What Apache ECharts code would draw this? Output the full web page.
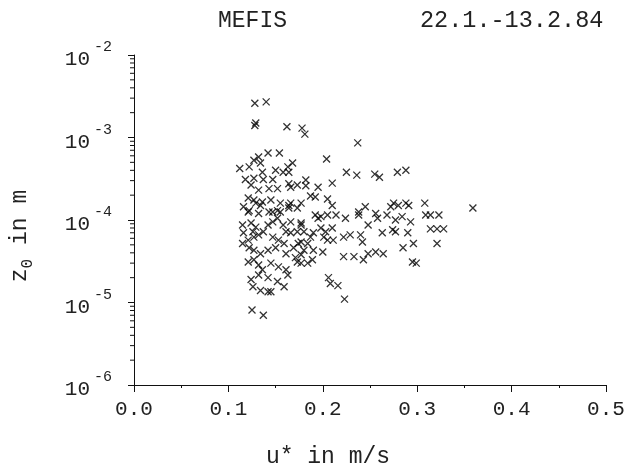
<!DOCTYPE html>
<html><head><meta charset="utf-8">
<script src="https://cdn.jsdelivr.net/npm/echarts@6/dist/echarts.min.js"></script>
<style>html,body{margin:0;padding:0;background:#fff}#c{width:632px;height:471px}</style>
</head><body><div id="c"></div>
<script>
const titleLeft = 'MEFIS';
const titleRight = '22.1.-13.2.84';
const xName = 'u* in m/s';
const xTicks = [0.0, 0.1, 0.2, 0.3, 0.4, 0.5];
const yDecades = [1e-6, 1e-5, 1e-4, 1e-3, 1e-2];
const yMinorTicks = [2e-6,3e-6,4e-6,5e-6,6e-6,7e-6,8e-6,9e-6,
  2e-5,3e-5,4e-5,5e-5,6e-5,7e-5,8e-5,9e-5,
  2e-4,3e-4,4e-4,5e-4,6e-4,7e-4,8e-4,9e-4,
  2e-3,3e-3,4e-3,5e-3,6e-3,7e-3,8e-3,9e-3];

const uStar = [0.128,0.140,0.129,0.128,0.162,0.178,0.181,0.237,0.142,0.154,
0.204,0.127,0.132,0.134,0.112,0.122,0.136,0.150,0.158,0.163,
0.168,0.164,0.225,0.236,0.255,0.260,0.279,0.288,0.118,0.127,
0.137,0.147,0.164,0.173,0.182,0.182,0.195,0.210,0.124,0.132,
0.143,0.152,0.166,0.121,0.127,0.136,0.145,0.155,0.164,0.173,
0.187,0.192,0.205,0.210,0.177,0.308,0.359,0.116,0.122,0.134,
0.147,0.155,0.129,0.166,0.132,0.143,0.152,0.164,0.238,0.245,
0.256,0.258,0.272,0.275,0.280,0.288,0.291,0.192,0.198,0.205,
0.214,0.224,0.238,0.248,0.268,0.277,0.284,0.293,0.309,0.314,
0.323,0.177,0.180,0.190,0.198,0.201,0.210,0.211,0.222,0.229,
0.240,0.242,0.263,0.274,0.277,0.290,0.296,0.314,0.321,0.328,
0.321,0.177,0.184,0.190,0.200,0.180,0.222,0.233,0.243,0.248,
0.256,0.264,0.285,0.295,0.299,0.184,0.189,0.177,0.206,0.208,
0.216,0.223,0.124,0.132,0.142,0.152,0.159,0.126,0.134,0.142,
0.145,0.125,0.137,0.115,0.124,0.129,0.116,0.126,0.121,0.127,
0.132,0.137,0.142,0.147,0.152,0.158,0.166,0.161,0.166,0.173,
0.177,0.147,0.153,0.159,0.169,0.174,0.187,0.195,0.115,0.122,
0.127,0.134,0.142,0.150,0.161,0.171,0.177,0.121,0.127,0.132,
0.136,0.145,0.153,0.161,0.163,0.173,0.203,0.205,0.121];

const z0 = [2.6e-3,2.7e-3,1.5e-3,1.4e-3,1.35e-3,1.3e-3,1.1e-3,8.6e-4,6.5e-4,6.5e-4,
5.5e-4,5.3e-4,5.8e-4,4.9e-4,4.2e-4,4.4e-4,3.8e-4,4.0e-4,3.8e-4,4.4e-4,
4.9e-4,3.8e-4,3.8e-4,3.5e-4,3.6e-4,3.3e-4,3.8e-4,4.0e-4,3.1e-4,3.2e-4,
3.1e-4,3.1e-4,2.75e-4,2.65e-4,3.05e-4,2.6e-4,2.5e-4,2.8e-4,2.65e-4,2.3e-4,
2.4e-4,2.4e-4,2.5e-4,1.85e-4,1.75e-4,1.65e-4,1.75e-4,1.6e-4,1.5e-4,1.4e-4,
1.95e-4,1.9e-4,1.8e-4,1.5e-4,1.6e-4,1.6e-4,1.4e-4,1.45e-4,1.3e-4,1.5e-4,
1.25e-4,1.25e-4,1.6e-4,1.6e-4,1.2e-4,1.25e-4,1.3e-4,1.4e-4,1.25e-4,1.45e-4,
1.2e-4,1.05e-4,1.45e-4,1.6e-4,1.5e-4,1.6e-4,1.5e-4,1.15e-4,1.1e-4,1.15e-4,
1.15e-4,1.05e-4,1.15e-4,8.7e-5,1.15e-4,1.0e-4,1.1e-4,9.5e-5,1.15e-4,1.15e-4,
1.15e-4,9.2e-5,7.2e-5,7.0e-5,8.0e-5,6.2e-5,8.0e-5,5.7e-5,6.2e-5,6.6e-5,
6.6e-5,5.4e-5,7.0e-5,7.6e-5,7.2e-5,7.0e-5,5.2e-5,7.8e-5,7.8e-5,7.8e-5,
5.2e-5,5.4e-5,5.2e-5,4.3e-5,4.1e-5,4.3e-5,3.6e-5,3.6e-5,3.3e-5,3.9e-5,
4.1e-5,3.9e-5,4.6e-5,3.1e-5,3.0e-5,3.0e-5,3.3e-5,3.0e-5,2.0e-5,1.7e-5,
1.6e-5,1.1e-5,1.9e-5,2.15e-5,2.0e-5,1.8e-5,1.55e-5,1.55e-5,1.4e-5,1.35e-5,
1.35e-5,8.1e-6,7.0e-6,8.7e-5,9.2e-5,8.2e-5,7.0e-5,7.2e-5,5.7e-5,6.2e-5,
6.6e-5,7.2e-5,8.7e-5,9.5e-5,1.05e-4,8.7e-5,9.5e-5,7.2e-5,7.0e-5,7.2e-5,
8.7e-5,6.2e-5,5.7e-5,5.2e-5,4.6e-5,5.2e-5,6.2e-5,1.05e-4,5.2e-5,4.6e-5,
4.3e-5,3.9e-5,4.3e-5,4.6e-5,3.9e-5,3.5e-5,3.8e-5,3.1e-5,3.3e-5,2.85e-5,
2.5e-5,3.0e-5,2.7e-5,2.5e-5,2.15e-5,3.1e-5,7.2e-5,5.7e-5,1.25e-4];

const FONT = 'Liberation Mono';
const TXT = '#222';
const chart = echarts.init(document.getElementById('c'));
const points = uStar.map((u, i) => [u, z0[i]]);

chart.setOption({
  animation: false,
  backgroundColor: '#fff',
  grid: { left: 134, right: 26, top: 55, bottom: 86 },
  xAxis: {
    type: 'value', min: xTicks[0], max: xTicks[xTicks.length - 1], interval: 0.1,
    axisLine: { lineStyle: { color: '#111', width: 1 } },
    axisTick: { length: 7, lineStyle: { color: '#111' } },
    minorTick: { show: true, splitNumber: 2, length: 3, lineStyle: { color: '#111' } },
    splitLine: { show: false },
    axisLabel: { margin: 14, fontFamily: FONT, fontSize: 21, color: TXT,
      formatter: v => v.toFixed(1) }
  },
  yAxis: {
    type: 'log', logBase: 10, min: yDecades[0], max: yDecades[yDecades.length - 1],
    axisLine: { show: true, lineStyle: { color: '#111', width: 1 } },
    axisTick: { length: 6, lineStyle: { color: '#111' } },
    splitLine: { show: false },
    axisLabel: {
      margin: 22,
      formatter: v => '{b|10}{s|' + Math.round(Math.log10(v)) + '}',
      rich: {
        b: { fontFamily: FONT, fontSize: 21, color: TXT, lineHeight: 30, verticalAlign: 'bottom' },
        s: { fontFamily: FONT, fontSize: 15, color: TXT, lineHeight: 30, verticalAlign: 'top', padding: [0, 0, 0, 4] }
      }
    }
  },
  graphic: [
    { type: 'text', left: 218, top: 9, style: { text: titleLeft, font: '23px "' + FONT + '"', fill: TXT } },
    { type: 'text', left: 420, top: 9, style: { text: titleRight, font: '23.5px "' + FONT + '"', fill: TXT } },
    { type: 'text', x: 328, y: 457, style: { text: xName, font: '23px "' + FONT + '"', fill: TXT, align: 'center', verticalAlign: 'middle' } },
    { type: 'text', x: 22, y: 236, rotation: Math.PI / 2,
      style: { text: '{a|z}{b|0}{a| in m}', align: 'center', verticalAlign: 'middle',
        rich: { a: { fontFamily: FONT, fontSize: 23, fill: TXT, color: TXT, lineHeight: 28, verticalAlign: 'top' },
                b: { fontFamily: FONT, fontSize: 16, fill: TXT, color: TXT, lineHeight: 28, verticalAlign: 'bottom' } } } }
  ],
  series: [
    {
      type: 'scatter', data: points,
      symbol: 'path://M0,0L10,10M10,0L0,10', symbolSize: 7, symbolKeepAspect: true,
      itemStyle: { color: 'none', borderColor: '#000', borderWidth: 1.3 }
    },
    {
      type: 'custom', data: yMinorTicks.map(v => [0, v]), silent: true, clip: false,
      renderItem: (params, api) => {
        const p = api.coord([api.value(0), api.value(1)]);
        return { type: 'line', shape: { x1: p[0] - 4, y1: p[1], x2: p[0], y2: p[1] },
          style: { stroke: '#111', lineWidth: 1 } };
      }
    }
  ]
});
</script></body></html>
